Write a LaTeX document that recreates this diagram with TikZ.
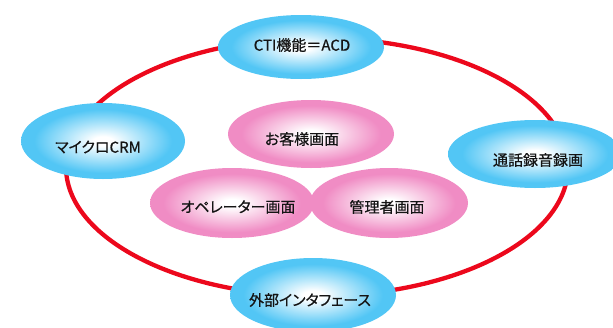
\documentclass[tikz,border=0pt]{standalone}
\usepackage{fontspec}
\setmainfont[RawFeature=+palt, FakeBold=0.6]{Noto Sans CJK JP}
\usetikzlibrary{shapes.geometric}
\definecolor{ringred}{RGB}{236,8,28}
\definecolor{skyb}{RGB}{82,198,245}
\definecolor{pinkc}{RGB}{240,140,196}
\pgfdeclareradialshading{blueglow}{\pgfpoint{0bp}{0bp}}{color(0bp)=(white); color(3bp)=(white); color(21bp)=(skyb); color(25bp)=(skyb); color(50bp)=(skyb)}
\pgfdeclareradialshading{pinkglow}{\pgfpoint{0bp}{0bp}}{color(0bp)=(white); color(3bp)=(white); color(21bp)=(pinkc); color(25bp)=(pinkc); color(50bp)=(pinkc)}
\begin{document}
\begin{tikzpicture}[x=1pt,y=-1pt,
  blueell/.style={ellipse, shading=blueglow, inner sep=0pt},
  pinkell/.style={ellipse, shading=pinkglow, inner sep=0pt},
  lbl/.style={inner sep=0pt, text=black!92, font=\fontsize{15pt}{17pt}\selectfont}]
\useasboundingbox (0,0) rectangle (613,327);
\node[ellipse, draw=ringred, line width=4.3pt, minimum width=502pt, minimum height=258pt, inner sep=0pt] (ring) at (317,167) {};
% outer blue ellipses
\node[blueell, minimum width=166pt, minimum height=64pt] (cti) at (301,47) {};
\node[blueell, minimum width=164pt, minimum height=76pt] (crm) at (103,141) {};
\node[blueell, minimum width=174pt, minimum height=68pt] (rec) at (535,154) {};
\node[blueell, minimum width=166pt, minimum height=74pt] (ext) at (313,295) {};
% inner pink ellipses
\node[pinkell, minimum width=166pt, minimum height=68pt] (cust) at (311,134) {};
\node[pinkell, minimum width=164pt, minimum height=70pt] (op) at (232,203) {};
\node[pinkell, minimum width=158pt, minimum height=70pt] (mgr) at (389,203) {};
% labels
\node[lbl] (ctit) at (302,45) {CTI機能＝ACD};
\node[lbl] (crmt) at (98,147) {マイクロCRM};
\node[lbl] (rect) at (538,160) {通話録音録画};
\node[lbl] (extt) at (310,300) {外部インタフェース};
\node[lbl] (custt) at (302,139) {お客様画面};
\node[lbl] (opt) at (238,207) {オペレーター画面};
\node[lbl] (mgrt) at (387,207) {管理者画面};
\end{tikzpicture}
\end{document}
